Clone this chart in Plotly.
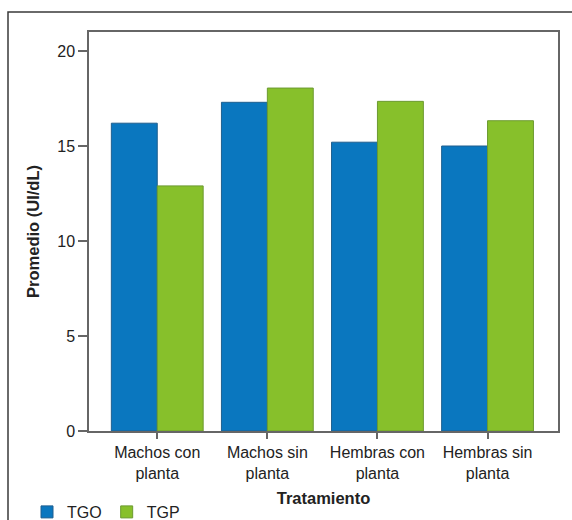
import plotly.graph_objects as go

categories = ["Machos con<br>planta", "Machos sin<br>planta", "Hembras con<br>planta", "Hembras sin<br>planta"]
tgo = [16.2, 17.3, 15.2, 15.0]
tgp = [12.9, 18.05, 17.35, 16.33]
y_ticks = [0, 5, 10, 15, 20]

W, H = 572, 520
L, R, T, B = 89, 558, 32, 431

def px_x(p):
    return (p - L) / (R - L)

def px_y(p):
    return (B - p) / (B - T)

fig = go.Figure()
fig.add_trace(go.Bar(name="TGO", x=categories, y=tgo,
                     marker=dict(color="#0a77bf", line=dict(color="#1f5f8f", width=1))))
fig.add_trace(go.Bar(name="TGP", x=categories, y=tgp,
                     marker=dict(color="#87c02b", line=dict(color="#6c9a30", width=1))))

font_family = "Liberation Sans, Arial, sans-serif"

fig.update_layout(
    width=W, height=H, autosize=False,
    margin=dict(l=L, r=W - R, t=T, b=H - B, pad=0, autoexpand=False),
    paper_bgcolor="white", plot_bgcolor="white",
    barmode="group", bargap=0.166, bargroupgap=0,
    font=dict(family=font_family, size=16, color="#222"),
    showlegend=True,
    legend=dict(orientation="h", x=px_x(27), y=px_y(512), xanchor="left", yanchor="middle",
                font=dict(size=16, color="#222"), bgcolor="rgba(0,0,0,0)", itemwidth=30,
                traceorder="normal"),
    xaxis=dict(
        range=[-0.62, 3.64], showgrid=False, zeroline=False,
        showline=True, linecolor="#666", linewidth=1.5, mirror=True,
        ticks="outside", ticklen=6, tickcolor="#666", tickwidth=1.5,
        tickfont=dict(size=16, color="#222"),
        title=dict(text="<b>Tratamiento</b>", font=dict(size=16.5, color="#222"), standoff=12),
    ),
    yaxis=dict(
        range=[0, 21], tickvals=y_ticks, showgrid=False, zeroline=False,
        showline=True, linecolor="#666", linewidth=1.5, mirror=True,
        ticks="outside", ticklen=9, tickcolor="#666", tickwidth=1.5,
        tickfont=dict(size=16, color="#222"),
        title=dict(text="<b>Promedio (UI/dL)</b>", font=dict(size=16.5, color="#222"), standoff=13),
    ),
    shapes=[dict(type="rect", xref="paper", yref="paper",
                 x0=px_x(8), x1=px_x(600), y0=px_y(560), y1=px_y(12),
                 line=dict(color="#3a3a3a", width=1.5), fillcolor="rgba(0,0,0,0)", layer="below")],
)

fig.write_html("out.html", config={"displayModeBar": False},
               post_script="document.body.style.margin='0px';document.body.style.overflow='hidden';")
